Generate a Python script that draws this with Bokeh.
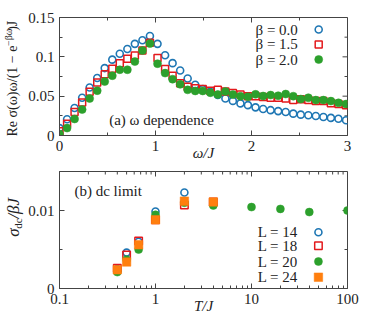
import numpy as np
from bokeh.plotting import figure
from bokeh.models import FixedTicker, Label, Range1d, BasicTickFormatter
from bokeh.layouts import column, row
from bokeh.embed import file_html
from bokeh.resources import INLINE

# ---------------- data: panel (a) ----------------
omega = [0.0, 0.079, 0.157, 0.236, 0.314, 0.393, 0.471, 0.550, 0.628, 0.707,
         0.785, 0.864, 0.942, 1.021, 1.100, 1.178, 1.257, 1.335, 1.414, 1.492,
         1.571, 1.649, 1.728, 1.806, 1.885, 1.963, 2.042, 2.121, 2.199, 2.278,
         2.356, 2.435, 2.513, 2.592, 2.670, 2.749, 2.827, 2.906, 2.985]
sigma_beta00 = [0.0094, 0.0206, 0.035, 0.048, 0.061, 0.073, 0.0857, 0.0964, 0.104, 0.110,
                0.1165, 0.121, 0.1265, 0.1165, 0.102, 0.092, 0.0827, 0.0725, 0.0645, 0.059,
                0.0555, 0.0514, 0.047, 0.044, 0.0408, 0.0386, 0.0358, 0.0336, 0.0322, 0.0310,
                0.0298, 0.0278, 0.0265, 0.0257, 0.0247, 0.0235, 0.0224, 0.0212, 0.0193]
sigma_beta15 = [0.0055, 0.015, 0.030, 0.042, 0.0557, 0.0673, 0.078, 0.085, 0.092, 0.0975,
                0.1016, 0.108, 0.118, 0.0986, 0.0844, 0.0759, 0.0664, 0.0621, 0.060, 0.059,
                0.057, 0.058, 0.056, 0.054, 0.052, 0.050, 0.050, 0.049, 0.048, 0.048,
                0.047, 0.045, 0.046, 0.045, 0.044, 0.044, 0.041, 0.040, 0.0385]
sigma_beta20 = [0.002, 0.0094, 0.021, 0.033, 0.047, 0.057, 0.0686, 0.076, 0.0836, 0.0836,
                0.094, 0.108, 0.117, 0.0913, 0.0793, 0.0716, 0.065, 0.058, 0.0566, 0.0566,
                0.0544, 0.052, 0.056, 0.052, 0.050, 0.0493, 0.0523, 0.0502, 0.0514, 0.0506,
                0.0527, 0.050, 0.0463, 0.048, 0.045, 0.045, 0.0437, 0.0415, 0.040]
beta_labels = ["β = 0.0", "β = 1.5", "β = 2.0"]
omega_ticks = [0, 1, 2, 3]
omega_minor = [0.5, 1.5, 2.5]
sig_ticks = [0, 0.05, 0.1, 0.15]
sig_minor = [0.025, 0.075, 0.125]

# ---------------- data: panel (b) ----------------
T_L14 = [0.4, 0.5, 0.667, 1.0, 2.0]
sdc_L14 = [0.0025, 0.0046, 0.0060, 0.00987, 0.0123]
T_L18 = [0.4, 0.5, 0.667, 1.0, 2.0, 4.0]
sdc_L18 = [0.0026, 0.0043, 0.0061, 0.0088, 0.0107, 0.0111]
T_L20 = [0.4, 0.5, 0.667, 1.0, 2.0, 4.0, 10.0, 20.0, 40.0, 100.0]
sdc_L20 = [0.0021, 0.0037, 0.0050, 0.00945, 0.0110, 0.01065, 0.01044, 0.0102, 0.0098, 0.0100]
T_L24 = [0.4, 0.5, 0.667, 1.0, 2.0, 4.0]
sdc_L24 = [0.0024, 0.0034, 0.0056, 0.0088, 0.0112, 0.0111]
L_labels = ["L = 14", "L = 18", "L = 20", "L = 24"]
T_ticks = [0.1, 1, 10, 100]
T_minor = [0.2, 0.3, 0.4, 0.5, 0.6, 0.7, 0.8, 0.9, 2, 3, 4, 5, 6, 7, 8, 9,
           20, 30, 40, 50, 60, 70, 80, 90]
sdc_ticks = [0, 0.01]
sdc_minor = [0.005, 0.015]

FONT = "Liberation Serif"
FS = "15px"
AXC = "#444444"
TXT = "#222222"
BLUE = "#1f77b4"
RED = "#e3191c"
GREEN = "#2ca02c"
ORANGE = "#ff7f0e"
MAJ, MIN = 5, 3   # inward tick lengths in px
LABW = 25         # width of the strip holding the rotated y-axis titles


def style_axis(ax, ticks, minor, overrides):
    ax.ticker = FixedTicker(ticks=ticks, minor_ticks=minor)
    ax.formatter = BasicTickFormatter()
    ax.major_label_overrides = overrides
    ax.major_tick_in = MAJ
    ax.major_tick_out = 0
    ax.minor_tick_in = MIN
    ax.minor_tick_out = 0
    ax.axis_line_color = AXC
    ax.major_tick_line_color = AXC
    ax.minor_tick_line_color = AXC
    ax.major_label_text_font = FONT
    ax.major_label_text_color = TXT
    ax.major_label_text_font_size = FS
    ax.major_label_standoff = 5


def mirror_ticks(p, xt, xm, yt, ym, x0, x1, y0, y1, fw, fh, logx=False):
    """inward tick marks on the top and right frame edges"""
    def dy(n):
        return (y1 - y0) * n / fh
    def xin(n):
        if logx:
            return x1 / 10 ** (np.log10(x1 / x0) * n / fw)
        return x1 - (x1 - x0) * n / fw
    for ticks, n in ((xt, MAJ), (xm, MIN)):
        p.segment(x0=ticks, y0=[y1] * len(ticks), x1=ticks, y1=[y1 - dy(n)] * len(ticks),
                  line_color=AXC, line_width=1)
    for ticks, n in ((yt, MAJ), (ym, MIN)):
        p.segment(x0=[x1] * len(ticks), y0=ticks, x1=[xin(n)] * len(ticks), y1=ticks,
                  line_color=AXC, line_width=1)


def txt(p, x, y, s, size=FS, align="left", angle=0.0, style="normal"):
    p.add_layout(Label(x=x, y=y, text=s, text_font=FONT, text_font_size=size,
                       text_color=TXT, text_align=align, text_baseline="middle",
                       angle=angle, text_font_style=style))


def label_strip(h):
    s = figure(width=LABW, height=h, x_range=Range1d(0, LABW), y_range=Range1d(0, h),
               x_axis_type=None, y_axis_type=None, output_backend="svg",
               toolbar_location=None, min_border=0, min_border_left=0,
               min_border_right=0, min_border_top=0, min_border_bottom=0)
    s.outline_line_color = None
    s.xgrid.visible = False
    s.ygrid.visible = False
    return s


# ---------------- panel (a) ----------------
H1 = 168
p1 = figure(width=374 - LABW, height=H1, x_range=Range1d(0, 3), y_range=Range1d(0, 0.15),
            output_backend="svg", toolbar_location=None,
            min_border_left=57 - LABW, min_border_right=27, min_border_top=17,
            min_border_bottom=33)
p1.xgrid.visible = False
p1.ygrid.visible = False
p1.outline_line_color = AXC
style_axis(p1.xaxis[0], omega_ticks, omega_minor, {0: "0", 1: "1", 2: "2", 3: "3"})
style_axis(p1.yaxis[0], sig_ticks, sig_minor, {0: "0", 0.05: "0.05", 0.1: "0.1", 0.15: "0.15"})
p1.xaxis.axis_label = "ω/J"
p1.xaxis.axis_label_text_font = FONT
p1.xaxis.axis_label_text_font_style = "italic"
p1.xaxis.axis_label_text_font_size = FS
p1.xaxis.axis_label_text_color = TXT
p1.xaxis.axis_label_standoff = -9
mirror_ticks(p1, omega_ticks, omega_minor, sig_ticks, sig_minor, 0, 3, 0, 0.15, 290, 118)

p1.scatter(omega, sigma_beta00, marker="circle", size=7, fill_color=None,
           line_color=BLUE, line_width=1.6)
p1.scatter(omega, sigma_beta15, marker="square", size=7, fill_color=None,
           line_color=RED, line_width=1.5)
p1.scatter(omega, sigma_beta20, marker="circle", size=8, fill_color=GREEN,
           line_color=GREEN, line_width=0.5)

# legend (text on the left, key on the right)
leg1_y = [0.1347, 0.1157, 0.0966]
for s, yy in zip(beta_labels, leg1_y):
    txt(p1, 2.483, yy, s, align="right")
p1.scatter([2.70], [leg1_y[0]], marker="circle", size=7, fill_color=None,
           line_color=BLUE, line_width=1.6)
p1.scatter([2.70], [leg1_y[1]], marker="square", size=7, fill_color=None,
           line_color=RED, line_width=1.5)
p1.scatter([2.70], [leg1_y[2]], marker="circle", size=8, fill_color=GREEN,
           line_color=GREEN, line_width=0.5)

txt(p1, 0.517, 0.0203, "(a) ω dependence")

# rotated y-axis title of panel (a), in pieces for the superscript (pixel units)
s1 = label_strip(H1)
J1 = 40   # junction between base text and superscript (image y)
txt(s1, 12, H1 - J1, "Re σ(ω)ω/(1 − e", size="14px", align="right", angle=np.pi / 2)
txt(s1, 7.5, H1 - J1 - 0.5, "−βω", size="10px", angle=np.pi / 2)
txt(s1, 12, H1 - 19, ")J", size="14px", angle=np.pi / 2)

# ---------------- panel (b) ----------------
H2 = 322 - H1
p2 = figure(width=374 - LABW, height=H2, x_axis_type="log",
            x_range=Range1d(0.1, 100), y_range=Range1d(0, 0.015),
            output_backend="svg", toolbar_location=None,
            min_border_left=57 - LABW, min_border_right=27, min_border_top=3,
            min_border_bottom=34)
p2.xgrid.visible = False
p2.ygrid.visible = False
p2.outline_line_color = AXC
style_axis(p2.xaxis[0], T_ticks, T_minor, {0.1: "0.1", 1: "1", 10: "10", 100: "100"})
style_axis(p2.yaxis[0], sdc_ticks, sdc_minor, {0: "0", 0.01: "0.01"})
p2.xaxis.axis_label = "T/J"
p2.xaxis.axis_label_text_font = FONT
p2.xaxis.axis_label_text_font_style = "italic"
p2.xaxis.axis_label_text_font_size = FS
p2.xaxis.axis_label_text_color = TXT
p2.xaxis.axis_label_standoff = -9
mirror_ticks(p2, T_ticks, T_minor, sdc_ticks, sdc_minor, 0.1, 100, 0, 0.015, 290, 117, logx=True)

p2.scatter(T_L14, sdc_L14, marker="circle", size=7, fill_color=None,
           line_color=BLUE, line_width=1.6)
p2.scatter(T_L18, sdc_L18, marker="square", size=7.5, fill_color=None,
           line_color=RED, line_width=1.5)
p2.scatter(T_L20, sdc_L20, marker="circle", size=8, fill_color=GREEN,
           line_color=GREEN, line_width=0.5)
p2.scatter(T_L24, sdc_L24, marker="square", size=8.5, fill_color=ORANGE,
           line_color=ORANGE, line_width=0.5)

leg2_y = [0.00722, 0.00547, 0.00346, 0.00145]
for s, yy in zip(L_labels, leg2_y):
    txt(p2, 30.4, yy, s, align="right")
p2.scatter([49.8], [leg2_y[0]], marker="circle", size=7, fill_color=None,
           line_color=BLUE, line_width=1.6)
p2.scatter([49.8], [leg2_y[1]], marker="square", size=7.5, fill_color=None,
           line_color=RED, line_width=1.5)
p2.scatter([49.8], [leg2_y[2]], marker="circle", size=8, fill_color=GREEN,
           line_color=GREEN, line_width=0.5)
p2.scatter([49.8], [leg2_y[3]], marker="square", size=8.5, fill_color=ORANGE,
           line_color=ORANGE, line_width=0.5)

txt(p2, 0.143, 0.01256, "(b) dc limit")

# rotated y-axis title of panel (b): sigma_dc / beta J
s2 = label_strip(H2)
J2 = 243
txt(s2, 13, 322 - J2, "σ", size="17px", align="right", angle=np.pi / 2, style="italic")
txt(s2, 17.5, 322 - J2 - 0.5, "dc", size="11px", angle=np.pi / 2)
txt(s2, 13, 322 - 230, "/βJ", size="17px", angle=np.pi / 2, style="italic")

layout = column(row(s1, p1), row(s2, p2))
open("out.html", "w").write(file_html(layout, INLINE))
